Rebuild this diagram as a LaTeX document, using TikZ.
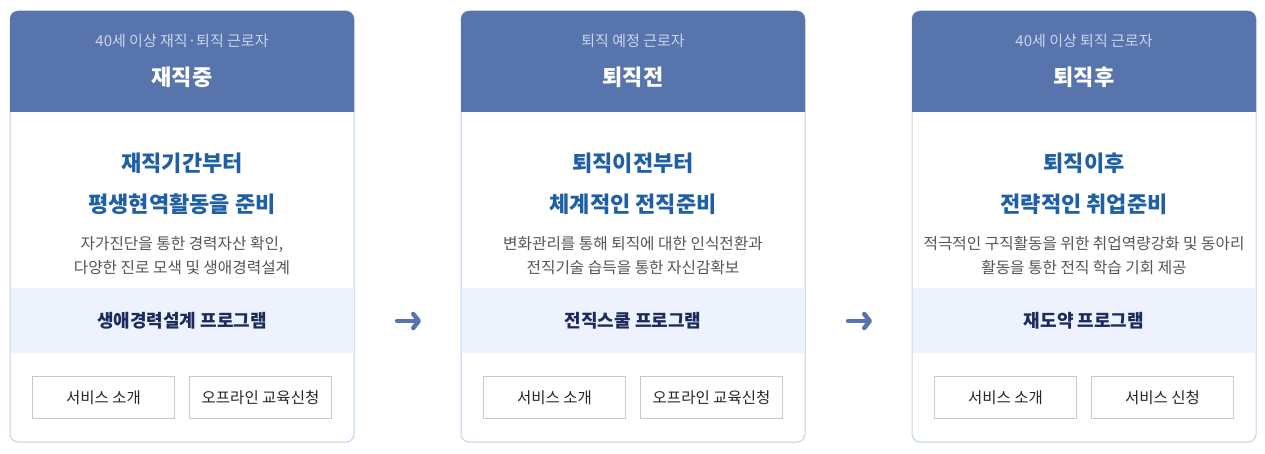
\documentclass[tikz,border=0pt]{standalone}
\usepackage{fontspec}
\setmainfont{Noto Sans CJK KR}
\usetikzlibrary{arrows.meta}
\definecolor{hdrblue}{HTML}{5874AC}
\definecolor{subtxt}{HTML}{C9D5EE}
\definecolor{headtxt}{HTML}{1F5FA6}
\definecolor{desctxt}{HTML}{555555}
\definecolor{bandfill}{HTML}{EEF2FC}
\definecolor{bandtxt}{HTML}{1B2B5B}
\definecolor{cardline}{HTML}{BCD2EA}
\definecolor{btnline}{HTML}{C8C8C8}
\begin{document}
\begin{tikzpicture}[x=1pt,y=-1pt,
  card/.style={draw=cardline,line width=1pt,fill=white,rounded corners=8pt},
  hdr/.style={fill=hdrblue},
  band/.style={fill=bandfill},
  subtitle/.style={text=subtxt,font=\fontsize{15}{17}\selectfont,inner sep=0pt},
  title/.style={text=white,font=\fontsize{22}{24}\selectfont\bfseries,inner sep=0pt},
  heading/.style={text=headtxt,font=\fontsize{22}{24}\selectfont\bfseries,inner sep=0pt},
  desc/.style={text=desctxt,font=\fontsize{15.7}{17}\selectfont,align=center,inner sep=0pt},
  bandlabel/.style={text=bandtxt,font=\fontsize{18}{20}\selectfont\bfseries,inner sep=0pt},
  button/.style={draw=btnline,line width=1pt,fill=white,minimum width=142pt,minimum height=42pt,
    text=black!85,font=\fontsize{15.5}{17}\selectfont,inner sep=0pt},
  flow/.style={draw=hdrblue,line width=4.5pt,line cap=round,
    -{Straight Barb[round,length=5.5pt,width=14pt]}}]
\useasboundingbox (0,0) rectangle (1265,454);

% card 1
\draw[card] (10,11) rectangle (354,442);
\fill[hdr] (10,112) [rounded corners=8pt] -- (10,11) -- (354,11) [sharp corners] -- (354,112) -- cycle;
\node[subtitle] (sub1) at (182,41) {40세 이상 재직·퇴직 근로자};
\node[title] (title1) at (182,77) {재직중};
\node[heading] (headA1) at (182,163) {재직기간부터};
\node[heading] (headB1) at (182,204) {평생현역활동을 준비};
\node[desc] (descA1) at (182,244) {자가진단을 통한 경력자산 확인,};
\node[desc] (descB1) at (182,268) {다양한 진로 모색 및 생애경력설계};
\fill[band] (10.5,288) rectangle (353.5,353);
\node[bandlabel] (prog1) at (182,321) {생애경력설계 프로그램};
\node[button] (btnA1) at (103.5,397.5) {서비스 소개};
\node[button] (btnB1) at (260.5,397.5) {오프라인 교육신청};

% card 2
\draw[card] (461,11) rectangle (805,442);
\fill[hdr] (461,112) [rounded corners=8pt] -- (461,11) -- (805,11) [sharp corners] -- (805,112) -- cycle;
\node[subtitle] (sub2) at (633,41) {퇴직 예정 근로자};
\node[title] (title2) at (633,77) {퇴직전};
\node[heading] (headA2) at (633,163) {퇴직이전부터};
\node[heading] (headB2) at (633,204) {체계적인 전직준비};
\node[desc] (descA2) at (633,244) {변화관리를 통해 퇴직에 대한 인식전환과};
\node[desc] (descB2) at (633,268) {전직기술 습득을 통한 자신감확보};
\fill[band] (461.5,288) rectangle (804.5,353);
\node[bandlabel] (prog2) at (633,321) {전직스쿨 프로그램};
\node[button] (btnA2) at (554.5,397.5) {서비스 소개};
\node[button] (btnB2) at (711.5,397.5) {오프라인 교육신청};

% card 3
\draw[card] (912,11) rectangle (1256,442);
\fill[hdr] (912,112) [rounded corners=8pt] -- (912,11) -- (1256,11) [sharp corners] -- (1256,112) -- cycle;
\node[subtitle] (sub3) at (1084,41) {40세 이상 퇴직 근로자};
\node[title] (title3) at (1084,77) {퇴직후};
\node[heading] (headA3) at (1084,163) {퇴직이후};
\node[heading] (headB3) at (1084,204) {전략적인 취업준비};
\node[desc] (descA3) at (1084,244) {적극적인 구직활동을 위한 취업역량강화 및 동아리};
\node[desc] (descB3) at (1084,268) {활동을 통한 전직 학습 기회 제공};
\fill[band] (912.5,288) rectangle (1255.5,353);
\node[bandlabel] (prog3) at (1084,321) {재도약 프로그램};
\node[button] (btnA3) at (1005.5,397.5) {서비스 소개};
\node[button] (btnB3) at (1162.5,397.5) {서비스 신청};

% arrows
\coordinate (arrA) at (397,321);
\coordinate (arrB) at (421,321);
\coordinate (arrC) at (848,321);
\coordinate (arrD) at (872,321);
\draw[flow] (arrA) -- (arrB);
\draw[flow] (arrC) -- (arrD);
\end{tikzpicture}
\end{document}
